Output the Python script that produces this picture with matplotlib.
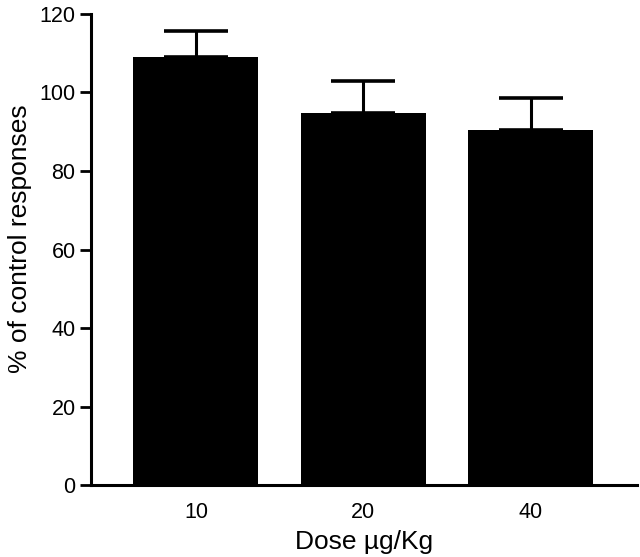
import matplotlib
matplotlib.use('Agg')
import matplotlib.pyplot as plt
import numpy as np

doses = ['10', '20', '40']
means = [109.0, 94.8, 90.4]
sem = [6.7, 8.1, 8.2]

plt.rcParams['font.family'] = ['Liberation Sans', 'DejaVu Sans']

fig = plt.figure(figsize=(6.4, 5.57), dpi=100)
ax = fig.add_axes([0.142, 0.129, 0.853, 0.846])

x = np.arange(len(doses))
ax.bar(x, means, width=0.746, color='black')
ax.errorbar(x, means, yerr=[np.zeros(len(sem)), sem], fmt='none',
            ecolor='black', elinewidth=2.2, capsize=23, capthick=2.6)

ax.set_xlim(-0.627, 2.633)
ax.set_ylim(0, 120)
ax.set_yticks(np.arange(0, 121, 20))
ax.set_xticks(x)
ax.set_xticklabels(doses)

ax.spines['top'].set_visible(False)
ax.spines['right'].set_visible(False)
ax.spines['left'].set_linewidth(2.2)
ax.spines['bottom'].set_linewidth(2.2)
ax.tick_params(axis='y', direction='out', length=8, width=2, pad=3, labelsize=15.5)
ax.tick_params(axis='x', length=0, labelsize=15.5, pad=12)

ax.set_xlabel('Dose µg/Kg', fontsize=19, labelpad=5)
ax.set_ylabel('% of control responses', fontsize=19)
ax.yaxis.set_label_coords(-0.108, 0.524)

fig.savefig('out.png', dpi=100)
